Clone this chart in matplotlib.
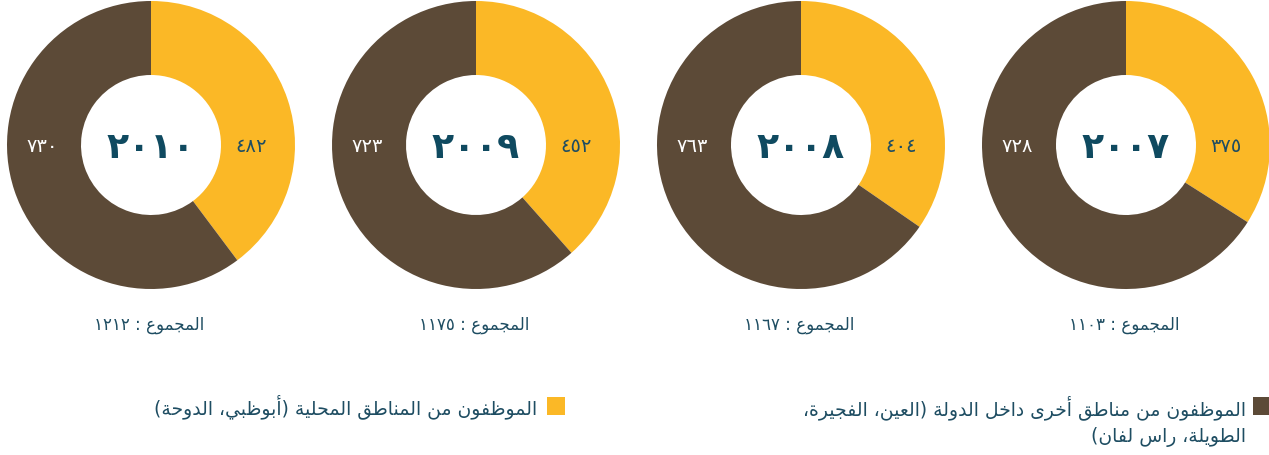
import re
import matplotlib
matplotlib.use("Agg")
import matplotlib.pyplot as plt
from matplotlib.patches import Rectangle

# data, left to right as in the report
years = [2010, 2009, 2008, 2007]
local_staff = [482, 452, 404, 375]   # yellow: Abu Dhabi, Doha
other_staff = [730, 723, 763, 728]   # brown: Al Ain, Fujairah, Taweelah, Ras Laffan

total_word = "المجموع"
legend_local = "الموظفون من المناطق المحلية (أبوظبي، الدوحة)"
legend_other = ["الموظفون من مناطق أخرى داخل الدولة (العين، الفجيرة،",
                "الطويلة، راس لفان)"]

YELLOW = "#fbb826"
BROWN = "#5c4a37"
TEXT = "#1e4d62"
YEAR_C = "#0f4a60"

# matplotlib has no arabic shaping, so pick presentation forms by hand
# (isolated, final, initial, medial)
FORMS = {
    "\u0627": (0xFE8D, 0xFE8E), "\u0623": (0xFE83, 0xFE84),
    "\u0628": (0xFE8F, 0xFE90, 0xFE91, 0xFE92), "\u0629": (0xFE93, 0xFE94),
    "\u062A": (0xFE95, 0xFE96, 0xFE97, 0xFE98),
    "\u062C": (0xFE9D, 0xFE9E, 0xFE9F, 0xFEA0),
    "\u062D": (0xFEA1, 0xFEA2, 0xFEA3, 0xFEA4),
    "\u062E": (0xFEA5, 0xFEA6, 0xFEA7, 0xFEA8),
    "\u062F": (0xFEA9, 0xFEAA), "\u0631": (0xFEAD, 0xFEAE),
    "\u0633": (0xFEB1, 0xFEB2, 0xFEB3, 0xFEB4),
    "\u0637": (0xFEC1, 0xFEC2, 0xFEC3, 0xFEC4),
    "\u0638": (0xFEC5, 0xFEC6, 0xFEC7, 0xFEC8),
    "\u0639": (0xFEC9, 0xFECA, 0xFECB, 0xFECC),
    "\u0641": (0xFED1, 0xFED2, 0xFED3, 0xFED4),
    "\u0642": (0xFED5, 0xFED6, 0xFED7, 0xFED8),
    "\u0644": (0xFEDD, 0xFEDE, 0xFEDF, 0xFEE0),
    "\u0645": (0xFEE1, 0xFEE2, 0xFEE3, 0xFEE4),
    "\u0646": (0xFEE5, 0xFEE6, 0xFEE7, 0xFEE8),
    "\u0648": (0xFEED, 0xFEEE), "\u0649": (0xFEEF, 0xFEF0),
    "\u064A": (0xFEF1, 0xFEF2, 0xFEF3, 0xFEF4),
}


def ar(s):
    out = []
    for i, c in enumerate(s):
        if c not in FORMS:
            out.append(c)
            continue
        f = FORMS[c]
        prev = s[i - 1] if i > 0 else ""
        nxt = s[i + 1] if i + 1 < len(s) else ""
        pj = prev in FORMS and len(FORMS[prev]) == 4
        nj = nxt in FORMS and len(f) == 4
        if pj and nj:
            g = f[3]
        elif pj:
            g = f[1]
        elif nj:
            g = f[2]
        else:
            g = f[0]
        out.append(chr(g))
    tokens = re.findall(r"[0-9\u0660-\u0669]+|.", "".join(out))[::-1]
    mirror = {"(": ")", ")": "("}
    return "".join(mirror.get(t, t) for t in tokens)


def digits(n):
    return str(n).translate(str.maketrans("0123456789", "٠١٢٣٤٥٦٧٨٩"))


plt.rcParams["font.family"] = ["DejaVu Sans"]

W, H = 1269, 456
fig = plt.figure(figsize=(W / 100, H / 100), dpi=100)
ax = fig.add_axes([0, 0, 1, 1])

centers = [151, 476, 801, 1126]
cy = H - 146
R = 144

for cx, yr, a, b in zip(centers, years, local_staff, other_staff):
    ax.pie([a, b], colors=[YELLOW, BROWN], startangle=90, counterclock=False,
           radius=R, center=(cx, cy),
           wedgeprops=dict(width=74, edgecolor="none"))
    ax.text(cx, cy - 2, digits(yr), ha="center", va="center", fontsize=26,
            fontweight="bold", color=YEAR_C)
    ax.text(cx + 100, cy, digits(a), ha="center", va="center",
            fontsize=14, color=TEXT)
    ax.text(cx - 109, cy - 1, digits(b), ha="center", va="center",
            fontsize=14, color="white")
    ax.text(cx - 2, H - 325, ar(total_word + " : " + digits(a + b)),
            ha="center", va="center", fontsize=12, color=TEXT)

# legend
ax.add_patch(Rectangle((547, H - 416), 18, 18, color=YELLOW, lw=0))
ax.text(537, H - 407, ar(legend_local), ha="right", va="center",
        fontsize=13.5, color=TEXT)
ax.add_patch(Rectangle((1253, H - 416), 17, 18, color=BROWN, lw=0))
ax.text(1246, H - 408, ar(legend_other[0]), ha="right", va="center",
        fontsize=13.5, color=TEXT)
ax.text(1246, H - 437, ar(legend_other[1]), ha="right", va="center",
        fontsize=13.5, color=TEXT)

ax.set_xlim(0, W)
ax.set_ylim(0, H)
ax.set_aspect("auto")
ax.axis("off")

fig.savefig("out.png", dpi=100)
